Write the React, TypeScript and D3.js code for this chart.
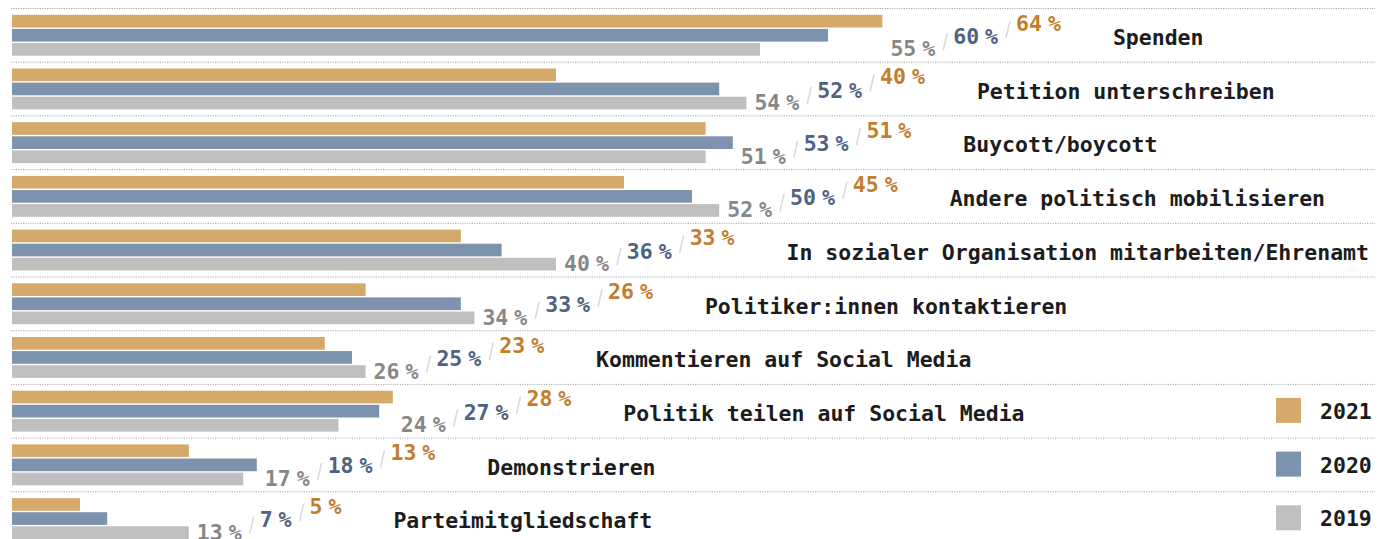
import React from 'react';
import * as d3 from 'd3';

const categories = [
  'Spenden',
  'Petition unterschreiben',
  'Buycott/boycott',
  'Andere politisch mobilisieren',
  'In sozialer Organisation mitarbeiten/Ehrenamt',
  'Politiker:innen kontaktieren',
  'Kommentieren auf Social Media',
  'Politik teilen auf Social Media',
  'Demonstrieren',
  'Parteimitgliedschaft',
];
const years = ['2021', '2020', '2019'];
const values2021 = [64, 40, 51, 45, 33, 26, 23, 28, 13, 5];
const values2020 = [60, 52, 53, 50, 36, 33, 25, 27, 18, 7];
const values2019 = [55, 54, 51, 52, 40, 34, 26, 24, 17, 13];

const W = 1389;
const H = 539;
const FONT = "'DejaVu Sans Mono', monospace";
const FS = 21.5;
const ADV = FS * 0.602;
const PCT_DX = 6;

const barColors: Record<string, string> = { '2021': '#d5a96a', '2020': '#7d92ad', '2019': '#bfbfbf' };
const textColors: Record<string, string> = { '2021': '#c27e2c', '2020': '#4e6282', '2019': '#878787' };
const seriesValues: Record<string, number[]> = { '2021': values2021, '2020': values2020, '2019': values2019 };

export default function App() {
  const x = d3.scaleLinear().domain([0, 100]).range([12, 1372]);
  const rowStep = 53.7;
  const y = d3
    .scaleBand<string>()
    .domain(categories)
    .range([8, 8 + rowStep * categories.length])
    .padding(0);
  const sub = d3.scaleBand<string>().domain(years).range([6.8, 47.7]).paddingInner(0.1);

  // label order left to right and baseline offsets within row
  const labelOrder = ['2019', '2020', '2021'];
  const labelBase: Record<string, number> = { '2019': 48.3, '2020': 35.8, '2021': 22.5 };

  const labelWidth = (v: number) => String(v).length * ADV + PCT_DX + ADV;

  return (
    <svg width={W} height={H} style={{ position: 'absolute', left: 0, top: 0, background: '#fff' }}>
      {categories.map((cat, i) => {
        const top = y(cat) as number;
        const vals = years.map((yr) => seriesValues[yr][i]);
        const maxEnd = x(d3.max(vals) as number);
        let lx = maxEnd + 8;
        const labels: JSX.Element[] = [];
        labelOrder.forEach((yr, k) => {
          const v = seriesValues[yr][i];
          const base = top + labelBase[yr];
          const w = labelWidth(v);
          labels.push(
            <text
              key={'l' + yr}
              x={lx}
              y={base}
              fontFamily={FONT}
              fontWeight={700}
              fontSize={FS}
              fill={textColors[yr]}
            >
              {String(v)}
              <tspan dx={PCT_DX}>%</tspan>
            </text>
          );
          const end = lx + w;
          if (k < labelOrder.length - 1) {
            labels.push(
              <line
                key={'s' + yr}
                x1={end + 8}
                y1={base - 6}
                x2={end + 12}
                y2={base - 23}
                stroke="#d6dae3"
                strokeWidth={1.6}
              />
            );
          }
          lx = end + 18;
        });
        const catX = lx - 18 + 52;
        return (
          <g key={cat}>
            <line
              x1={11}
              x2={1375}
              y1={top + 0.5}
              y2={top + 0.5}
              stroke="#a9a9a9"
              strokeWidth={1}
              strokeDasharray="1.2,1.2"
            />
            {years.map((yr) => (
              <rect
                key={yr}
                x={x(0)}
                y={top + (sub(yr) as number)}
                width={x(seriesValues[yr][i]) - x(0)}
                height={sub.bandwidth()}
                fill={barColors[yr]}
              />
            ))}
            {labels}
            <text
              x={catX}
              y={top + 37}
              fontFamily={FONT}
              fontWeight={700}
              fontSize={FS}
              fill="#1c1c1c"
            >
              {cat}
            </text>
          </g>
        );
      })}
      {years.map((yr, j) => {
        const top = y(categories[categories.length - 3 + j]) as number;
        return (
          <g key={'leg' + yr}>
            <rect x={1276} y={top + 14} width={25} height={25} fill={barColors[yr]} />
            <text x={1320} y={top + 35} fontFamily={FONT} fontWeight={700} fontSize={FS} fill="#1c1c1c">
              {yr}
            </text>
          </g>
        );
      })}
    </svg>
  );
}
